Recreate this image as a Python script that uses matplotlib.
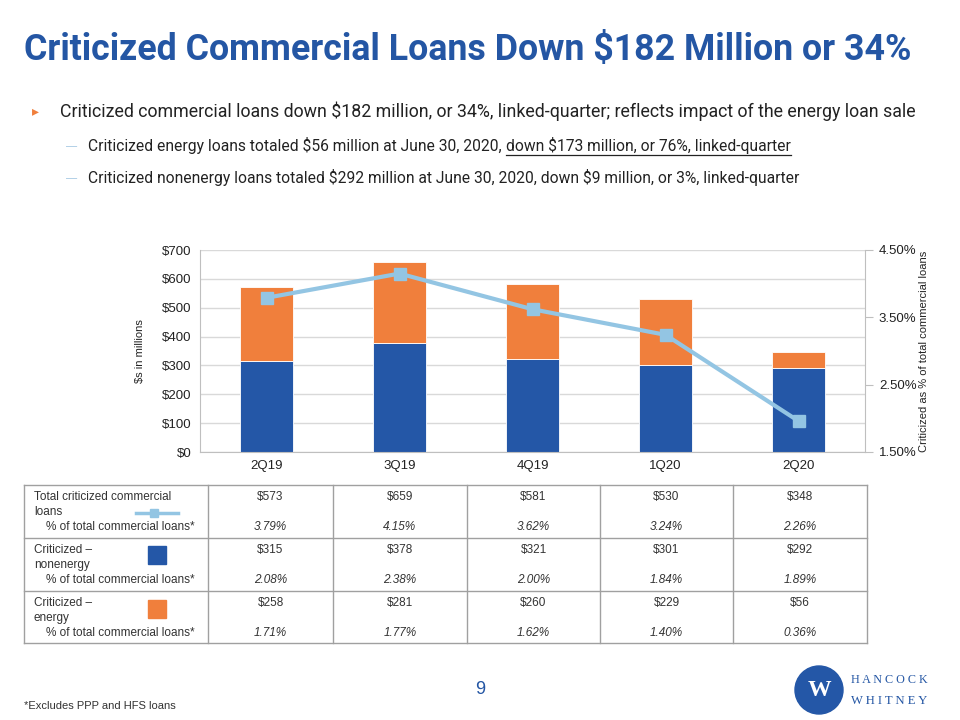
import matplotlib

matplotlib.use("Agg")
import matplotlib.pyplot as plt
from matplotlib.patches import Circle, Rectangle
from matplotlib.lines import Line2D
from matplotlib.ticker import FuncFormatter

quarters = ["2Q19", "3Q19", "4Q19", "1Q20", "2Q20"]
nonenergy = [315, 378, 321, 301, 292]
energy = [258, 281, 260, 229, 56]
total = [573, 659, 581, 530, 348]
pct_total = [3.79, 4.15, 3.62, 3.24, 2.26]
pct_nonenergy = [2.08, 2.38, 2.00, 1.84, 1.89]
pct_energy = [1.71, 1.77, 1.62, 1.40, 0.36]
# the line as drawn on the chart (last point sits lower than the table value)
pct_line = [3.79, 4.15, 3.62, 3.24, 1.96]

BLUE = "#2457A7"
ORANGE = "#F07F3C"
LINE = "#93C5E3"
TITLE = "#2456A4"
TXT = "#222222"

W, H = 960, 720
plt.rcParams["font.family"] = ["Liberation Sans", "DejaVu Sans"]
fig = plt.figure(figsize=(9.6, 7.2), dpi=100)


def px(x0, y0, x1, y1):
    return [x0 / W, 1 - y1 / H, (x1 - x0) / W, (y1 - y0) / H]


def fit(t, width):
    # shrink/grow font so the text spans the given pixel width
    fig.canvas.draw()
    w = t.get_window_extent().width
    t.set_fontsize(t.get_fontsize() * width / w)
    fig.canvas.draw()
    return t.get_window_extent()


title = fig.text(24 / W, 1 - 50 / H, "Criticized Commercial Loans Down $182 Million or 34%",
                 fontsize=30, fontweight="bold", color=TITLE, family="Roboto",
                 va="center", parse_math=False)
fit(title, 888)
fig.text(32 / W, 1 - 111 / H, "\u25B8", fontsize=10, color=ORANGE, va="center")
b1 = fig.text(60 / W, 1 - 111 / H,
              "Criticized commercial loans down $182 million, or 34%, linked-quarter; "
              "reflects impact of the energy loan sale",
              fontsize=14, color=TXT, family="Roboto", va="center", parse_math=False)
fit(b1, 860)

fig.text(66 / W, 1 - 178 / H, "\u2014", fontsize=8, color="#9CC3E0", va="center")
t3 = fig.text(88 / W, 1 - 178 / H,
              "Criticized nonenergy loans totaled $292 million at June 30, 2020, "
              "down $9 million, or 3%, linked-quarter",
              fontsize=12, color=TXT, family="Roboto", va="center", parse_math=False)
fit(t3, 705)
sub = t3.get_fontsize()

fig.text(66 / W, 1 - 146 / H, "\u2014", fontsize=8, color="#9CC3E0", va="center")
t1 = fig.text(88 / W, 1 - 146 / H,
              "Criticized energy loans totaled $56 million at June 30, 2020,",
              fontsize=sub, color=TXT, family="Roboto", va="center", parse_math=False)
fig.canvas.draw()
bb = t1.get_window_extent()
t2 = fig.text((bb.x1 + 4) / W, 1 - 146 / H, "down $173 million, or 76%, linked-quarter",
              fontsize=sub, color=TXT, family="Roboto", va="center", parse_math=False)
fig.canvas.draw()
bb2 = t2.get_window_extent()
fig.add_artist(Line2D([bb2.x0 / W, bb2.x1 / W], [1 - 155 / H, 1 - 155 / H],
                      color=TXT, lw=0.9))

# chart
ax = fig.add_axes(px(200, 250, 865, 452))
x = list(range(len(quarters)))
ax.bar(x, nonenergy, width=0.4, color=BLUE, edgecolor="white", linewidth=0.6, zorder=2)
ax.bar(x, energy, width=0.4, bottom=nonenergy, color=ORANGE, edgecolor="white",
       linewidth=0.6, zorder=2)
ax.set_xlim(-0.5, 4.5)
ax.set_ylim(0, 700)
ax.set_yticks(range(0, 701, 100))
ax.yaxis.set_major_formatter(FuncFormatter(lambda v, p: f"${v:,.0f}"))
ax.set_xticks(x)
ax.set_xticklabels(quarters)
ax.grid(axis="y", color="#D9D9D9", lw=1, zorder=0)
for s in ["top", "right"]:
    ax.spines[s].set_visible(False)
for s in ["left", "bottom"]:
    ax.spines[s].set_color("#BFBFBF")
ax.tick_params(length=0, labelsize=9.5, colors=TXT, pad=6)
ax.set_ylabel("$s in millions", fontsize=8, color=TXT, labelpad=12)

ax2 = ax.twinx()
ax2.plot(x, pct_line, color=LINE, lw=3, marker="s", markersize=8, zorder=3)
ax2.set_ylim(1.5, 4.5)
ax2.set_yticks([1.5, 2.5, 3.5, 4.5])
ax2.yaxis.set_major_formatter(FuncFormatter(lambda v, p: f"{v:.2f}%"))
for s in ["top", "left", "bottom"]:
    ax2.spines[s].set_visible(False)
ax2.spines["right"].set_color("#BFBFBF")
ax2.tick_params(axis="y", length=6, color="#BFBFBF", labelsize=9.5, labelcolor=TXT,
                pad=4)
ax2.set_ylabel("Criticized as % of total commercial loans", fontsize=8, color=TXT,
               labelpad=2)

# table
tab = fig.add_axes([0, 0, 1, 1])
tab.set_xlim(0, W)
tab.set_ylim(H, 0)
tab.axis("off")
cols = [24, 208, 333, 467, 600, 733, 867]
rows = [485, 538, 591, 643]
for xc in cols:
    tab.plot([xc, xc], [rows[0], rows[-1]], color="#A0A0A0", lw=1)
for yr in rows:
    tab.plot([cols[0], cols[-1]], [yr, yr], color="#A0A0A0", lw=1)

labels = [("Total criticized commercial", "loans"), ("Criticized \u2013", "nonenergy"),
          ("Criticized \u2013", "energy")]
dollars = [total, nonenergy, energy]
pcts = [pct_total, pct_nonenergy, pct_energy]
CELL = "#333333"
for r, (l1, l2) in enumerate(labels):
    y0 = rows[r]
    tab.text(34, y0 + 12, l1, fontsize=8.5, color=CELL, va="center")
    tab.text(34, y0 + 27, l2, fontsize=8.5, color=CELL, va="center")
    tab.text(46, y0 + 42, "% of total commercial loans*", fontsize=8.5, color=CELL,
             va="center")
    for c in range(len(quarters)):
        cx = (cols[c + 1] + cols[c + 2]) / 2
        tab.text(cx, y0 + 12, f"${dollars[r][c]}", fontsize=8.5, color=CELL,
                 ha="center", va="center")
        tab.text(cx, y0 + 42, f"{pcts[r][c]:.2f}%", fontsize=8.5, color=CELL,
                 ha="center", va="center", style="italic")

tab.plot([136, 178], [513, 513], color=LINE, lw=2.5)
tab.plot([154], [513], marker="s", color=LINE, markersize=6)
tab.add_patch(Rectangle((148, 546), 18, 18, color=BLUE))
tab.add_patch(Rectangle((148, 600), 18, 18, color=ORANGE))

# footer
fig.text(480 / W, 1 - 689 / H, "9", fontsize=13, color=TITLE, ha="center", va="center")
fig.text(24 / W, 1 - 706 / H, "*Excludes PPP and HFS loans", fontsize=8, color="#333333",
         va="center")
tab.add_patch(Circle((819, 690), 24, color=BLUE))
tab.text(819, 691, "W", fontsize=17, color="white", ha="center", va="center",
         fontweight="bold", family="Liberation Serif")
hw = dict(fontsize=11, color=TITLE, va="center", family="Liberation Serif")
h1 = tab.text(851, 680, "H A N C O C K", **hw)
h2 = tab.text(851, 701, "W H I T N E Y", **hw)
fit(h1, 77)
fit(h2, 77)

fig.savefig("out.png", dpi=100)
